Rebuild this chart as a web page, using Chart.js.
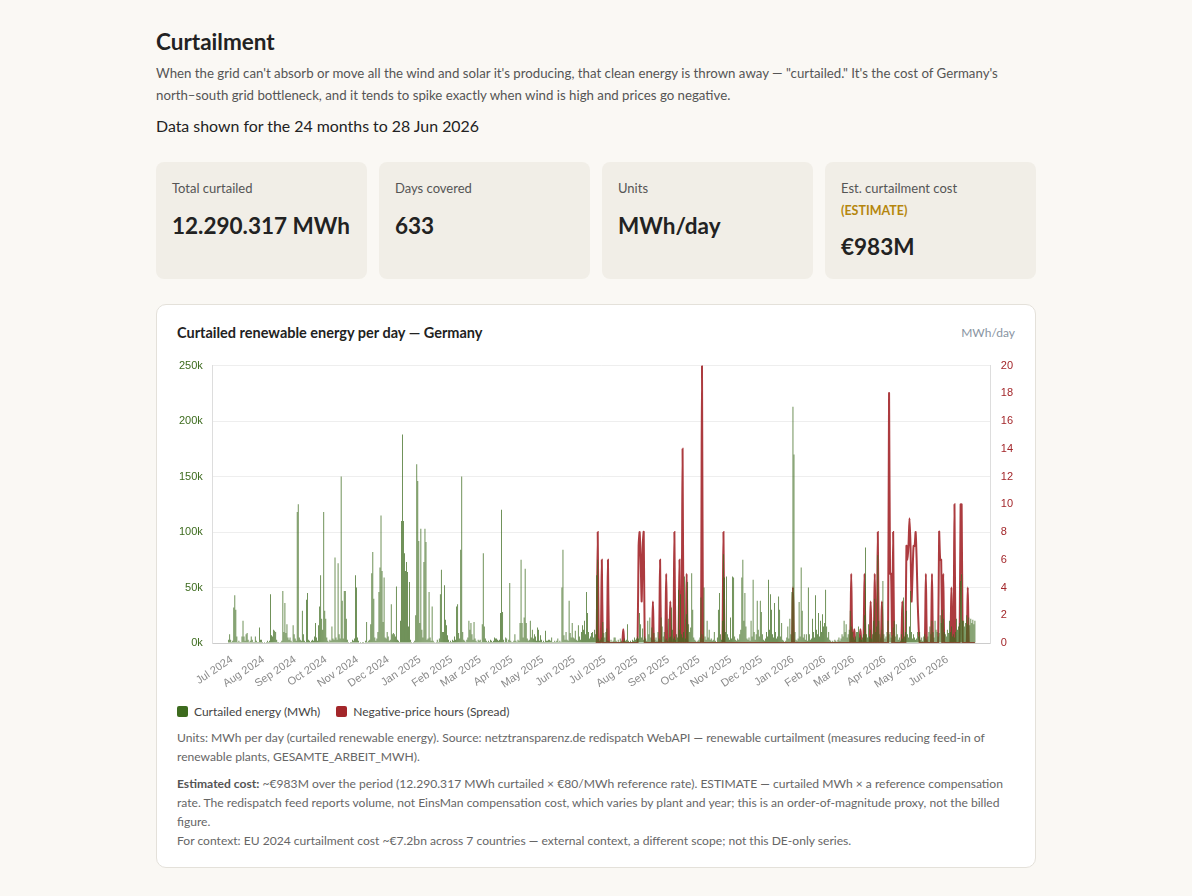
<!DOCTYPE html>
<html>
<head>
<meta charset="utf-8">
<title>Curtailment</title>
<script src="https://cdn.jsdelivr.net/npm/chart.js@4/dist/chart.umd.min.js"></script>
<style>
  body { margin: 0; background: #faf8f4; font-family: Lato, "Open Sans", sans-serif; color: #222; }
  .wrap { width: 880px; margin: 0 auto; padding-top: 29px; }
  h1 { font-size: 22.5px; font-weight: 700; margin: 0 0 7px; line-height: 26px; }
  .lead { font-size: 13.25px; line-height: 22px; color: #555; margin: 0 0 8px; }
  .sub { font-size: 15.9px; line-height: 24px; margin: 0 0 24px; }
  .cards { display: grid; grid-template-columns: repeat(4, minmax(0, 1fr)); gap: 12px; }
  .card { background: #f1eee7; border-radius: 8px; height: 117px; padding: 17px 16px; box-sizing: border-box; }
  .card .lbl { font-size: 13px; color: #555; line-height: 18px; }
  .card .est { font-size: 12.5px; color: #b5860d; font-weight: 700; line-height: 18px; margin-top: 5px; }
  .card .val { font-size: 22.5px; font-weight: 700; line-height: 30px; margin-top: 14px; white-space: nowrap; }
  .card .est + .val { margin-top: 12px; }
  .panel { margin-top: 25px; background: #fff; border: 1px solid #e4e1da; border-radius: 10px; padding: 18px 20px 16px; box-sizing: border-box; height: 564px; }
  .phead { display: flex; justify-content: space-between; align-items: center; height: 18px; }
  .ptitle { font-size: 14.5px; font-weight: 700; color: #222; }
  .punit { font-size: 12px; color: #8994a2; }
  .chartbox { position: relative; height: 352px; margin: 8px -8px 0 -8px; }
  .legend { display: flex; gap: 16px; font-size: 12px; color: #444; margin-top: 3px; }
  .legend span { display: inline-flex; align-items: center; }
  .legend i { display: inline-block; width: 11px; height: 11px; border-radius: 2px; margin-right: 6px; }
  .note { font-size: 12.1px; line-height: 19px; color: #666; margin: 9px 0 0; }
  .note b { color: #555; }
</style>
</head>
<body>
<div class="wrap">
  <h1>Curtailment</h1>
  <p class="lead">When the grid can't absorb or move all the wind and solar it's producing, that clean energy is thrown away — "curtailed." It's the cost of Germany's north–south grid bottleneck, and it tends to spike exactly when wind is high and prices go negative.</p>
  <div class="sub">Data shown for the 24 months to 28 Jun 2026</div>
  <div class="cards">
    <div class="card"><div class="lbl">Total curtailed</div><div class="val">12.290.317 MWh</div></div>
    <div class="card"><div class="lbl">Days covered</div><div class="val">633</div></div>
    <div class="card"><div class="lbl">Units</div><div class="val">MWh/day</div></div>
    <div class="card"><div class="lbl">Est. curtailment cost</div><div class="est">(ESTIMATE)</div><div class="val">€983M</div></div>
  </div>
  <div class="panel">
    <div class="phead"><div class="ptitle">Curtailed renewable energy per day — Germany</div><div class="punit">MWh/day</div></div>
    <div class="chartbox"><canvas id="curtailChart"></canvas></div>
    <div class="legend">
      <span><i style="background:#3d6b1e"></i>Curtailed energy (MWh)</span>
      <span><i style="background:#a3262a"></i>Negative-price hours (Spread)</span>
    </div>
    <p class="note">Units: MWh per day (curtailed renewable energy). Source: netztransparenz.de redispatch WebAPI — renewable curtailment (measures reducing feed-in of renewable plants, GESAMTE_ARBEIT_MWH).</p>
    <p class="note" style="margin-top:8px"><b>Estimated cost:</b> ~€983M over the period (12.290.317 MWh curtailed × €80/MWh reference rate). ESTIMATE — curtailed MWh × a reference compensation rate. The redispatch feed reports volume, not EinsMan compensation cost, which varies by plant and year; this is an order-of-magnitude proxy, not the billed figure.<br>For context: EU 2024 curtailment cost ~€7.2bn across 7 countries — external context, a different scope; not this DE-only series.</p>
  </div>
</div>

<script>
// first day of the series, one value per day after that
const startDate = '2024-06-28';

// curtailed energy per day, thousand MWh
const curtailed = [
  3, 8, 3, 1, 2, 32, 43, 30, 6, 1,
  2, 1, 1, 6, 20, 6, 2, 8, 9, 3,
  1, 2, 6, 3, 1, 1, 6, 2, 1, 1,
  14, 3, 3, 1, 0, 1, 0, 1, 2, 1,
  2, 44, 7, 6, 12, 11, 10, 3, 1, 1,
  0, 1, 2, 47, 10, 36, 9, 17, 5, 3,
  5, 2, 1, 16, 8, 4, 2, 118, 125, 5,
  3, 2, 29, 8, 2, 1, 39, 45, 3, 2,
  1, 2, 3, 2, 6, 18, 5, 2, 16, 33,
  61, 22, 12, 118, 29, 22, 5, 2, 1, 3,
  2, 15, 4, 3, 77, 5, 3, 72, 8, 4,
  150, 38, 4, 47, 47, 22, 3, 1, 0, 1,
  1, 3, 2, 4, 61, 50, 5, 2, 0, 1,
  0, 1, 1, 0, 2, 19, 1, 2, 3, 17,
  63, 82, 40, 5, 2, 4, 10, 46, 68, 115,
  65, 19, 59, 5, 4, 10, 6, 2, 3, 35,
  8, 9, 8, 6, 51, 3, 2, 1, 20, 110,
  188, 110, 81, 65, 73, 64, 15, 55, 3, 1,
  0, 1, 2, 25, 161, 146, 92, 18, 103, 12,
  5, 73, 103, 91, 3, 4, 46, 5, 2, 33,
  2, 1, 0, 1, 3, 1, 4, 44, 66, 10,
  10, 52, 21, 16, 7, 3, 1, 2, 1, 3,
  2, 6, 3, 33, 35, 9, 4, 84, 150, 10,
  3, 2, 1, 3, 5, 20, 12, 18, 8, 3,
  19, 4, 2, 1, 3, 2, 3, 1, 17, 81,
  15, 4, 2, 1, 2, 1, 3, 2, 1, 2,
  5, 4, 4, 3, 2, 3, 27, 120, 28, 3,
  1, 5, 4, 1, 3, 54, 2, 1, 1, 2,
  8, 2, 1, 3, 2, 18, 75, 18, 5, 23,
  67, 18, 4, 2, 3, 20, 5, 12, 4, 8,
  6, 2, 14, 12, 2, 7, 3, 1, 2, 1,
  11, 2, 2, 3, 3, 2, 5, 1, 1, 2,
  1, 2, 4, 1, 2, 1, 50, 84, 7, 3,
  10, 3, 2, 38, 9, 5, 18, 5, 4, 11,
  3, 2, 16, 6, 3, 10, 16, 12, 20, 8,
  46, 27, 10, 4, 6, 9, 10, 5, 12, 8,
  61, 75, 4, 2, 3, 5, 19, 9, 5, 10,
  13, 2, 2, 1, 3, 1, 2, 5, 5, 2,
  1, 3, 1, 4, 2, 1, 2, 4, 2, 3,
  17, 2, 1, 2, 1, 3, 2, 5, 3, 4,
  6, 4, 27, 17, 5, 13, 3, 6, 4, 2,
  20, 8, 23, 5, 14, 3, 9, 3, 5, 2,
  10, 4, 3, 23, 15, 6, 10, 3, 4, 2,
  22, 5, 6, 32, 12, 4, 6, 3, 8, 5,
  48, 12, 44, 8, 5, 10, 60, 4, 26, 55,
  17, 10, 14, 63, 30, 5, 3, 2, 1, 2,
  3, 5, 41, 8, 4, 50, 6, 3, 20, 5,
  12, 3, 4, 2, 3, 10, 2, 1, 5, 30,
  45, 8, 3, 20, 80, 59, 10, 60, 8, 5,
  3, 23, 4, 60, 59, 6, 3, 2, 4, 3,
  8, 12, 59, 75, 20, 45, 15, 4, 3, 5,
  2, 20, 6, 57, 10, 3, 8, 38, 12, 6,
  38, 28, 8, 3, 2, 4, 10, 6, 57, 12,
  44, 30, 8, 5, 36, 10, 4, 6, 42, 30,
  6, 18, 3, 2, 1, 2, 5, 15, 4, 22,
  8, 46, 213, 170, 10, 3, 2, 4, 37, 6,
  68, 29, 5, 8, 3, 8, 2, 50, 8, 3,
  4, 22, 10, 5, 43, 12, 8, 27, 6, 20,
  10, 26, 15, 18, 48, 15, 5, 10, 3, 2,
  1, 2, 1, 3, 2, 1, 3, 5, 2, 4,
  8, 6, 20, 10, 17, 5, 8, 12, 29, 15,
  10, 5, 3, 6, 10, 10, 15, 5, 7, 3,
  5, 8, 25, 86, 8, 5, 17, 6, 12, 4,
  8, 20, 40, 10, 15, 79, 20, 8, 5, 12,
  56, 8, 4, 6, 10, 20, 8, 10, 5, 7,
  14, 20, 6, 17, 8, 3, 5, 2, 8, 4,
  41, 6, 10, 29, 8, 5, 15, 47, 10, 4,
  8, 5, 3, 4, 10, 6, 10, 3, 5, 2,
  6, 8, 4, 3, 6, 10, 15, 8, 20, 10,
  5, 20, 12, 10, 6, 9, 25, 18, 30, 22,
  10, 8, 6, 12, 9, 20, 10, 15, 6, 8,
  5, 10, 22, 12, 15, 18, 56, 62, 20, 20,
  15, 18, 25, 17, 23, 16, 22, 18, 21, 17,
  20
];

// negative-price hours per day, series starts later
const negStart = '2025-06-23';
const negHours = [
  0, 8, 0, 0, 0, 6, 0, 0, 0, 0,
  0, 6, 0, 0, 0, 0, 0, 0, 0, 0,
  0, 0, 0, 0, 0, 0, 1, 0, 0, 0,
  0, 0, 0, 0, 0, 0, 0, 0, 0, 0,
  0, 7, 8, 6, 3, 7, 8, 0, 0, 0,
  0, 0, 0, 0, 0, 3, 0, 0, 0, 0,
  0, 0, 6, 0, 0, 0, 0, 0, 5, 0,
  0, 0, 3, 0, 0, 0, 8, 0, 0, 0,
  0, 6, 0, 0, 14, 0, 0, 0, 5, 0,
  0, 0, 0, 0, 0, 0, 0, 0, 0, 0,
  0, 0, 0, 20, 0, 0, 0, 0, 0, 0,
  0, 0, 0, 0, 0, 0, 0, 0, 0, 0,
  0, 0, 0, 0, 8, 0, 0, 0, 0, 0,
  0, 0, 0, 0, 0, 0, 0, 0, 0, 0,
  0, 0, 0, 0, 0, 0, 0, 0, 0, 0,
  0, 0, 0, 0, 0, 0, 0, 0, 0, 0,
  0, 0, 0, 0, 0, 0, 0, 0, 0, 0,
  0, 0, 0, 0, 0, 0, 0, 0, 0, 0,
  0, 0, 0, 0, 0, 0, 0, 0, 0, 0,
  0, 0, 4, 0, 0, 0, 0, 0, 0, 0,
  0, 0, 0, 0, 0, 0, 0, 0, 0, 0,
  0, 0, 0, 0, 0, 0, 0, 0, 0, 0,
  0, 0, 0, 0, 0, 0, 0, 0, 0, 0,
  0, 0, 0, 0, 0, 0, 0, 0, 0, 0,
  0, 0, 0, 0, 0, 0, 0, 0, 0, 5,
  0, 0, 1, 0, 0, 0, 0, 0, 1, 0,
  0, 0, 5, 0, 0, 0, 0, 0, 3, 0,
  0, 0, 5, 0, 0, 8, 0, 0, 0, 3,
  0, 0, 0, 0, 0, 0, 18, 5, 5, 0,
  8, 0, 0, 0, 0, 0, 0, 0, 0, 3,
  0, 0, 0, 7, 6, 7, 9, 7, 3, 5,
  7, 7, 8, 6, 3, 1, 0, 0, 0, 0,
  0, 0, 5, 0, 0, 0, 0, 0, 5, 0,
  0, 0, 0, 0, 0, 8, 6, 6, 0, 5,
  0, 0, 0, 0, 0, 0, 0, 4, 0, 0,
  10, 0, 0, 0, 0, 0, 10, 10, 0, 0,
  0, 0, 0, 4, 0, 0, 0, 0, 0, 0,
  0
];

// month ticks on the x axis
const monthStarts = ['2024-07-01', '2024-08-01', '2024-09-01', '2024-10-01', '2024-11-01', '2024-12-01',
  '2025-01-01', '2025-02-01', '2025-03-01', '2025-04-01', '2025-05-01', '2025-06-01',
  '2025-07-01', '2025-08-01', '2025-09-01', '2025-10-01', '2025-11-01', '2025-12-01',
  '2026-01-01', '2026-02-01', '2026-03-01', '2026-04-01', '2026-05-01', '2026-06-01'];
const monthLabels = ['Jul 2024', 'Aug 2024', 'Sep 2024', 'Oct 2024', 'Nov 2024', 'Dec 2024',
  'Jan 2025', 'Feb 2025', 'Mar 2025', 'Apr 2025', 'May 2025', 'Jun 2025',
  'Jul 2025', 'Aug 2025', 'Sep 2025', 'Oct 2025', 'Nov 2025', 'Dec 2025',
  'Jan 2026', 'Feb 2026', 'Mar 2026', 'Apr 2026', 'May 2026', 'Jun 2026'];

const leftTicks = [0, 50, 100, 150, 200, 250];
const rightTicks = [0, 2, 4, 6, 8, 10, 12, 14, 16, 18, 20];

const DAY = 86400000;
function dayIndex(s) {
    return Math.round((Date.parse(s) - Date.parse(startDate)) / DAY);
}

const negOffset = dayIndex(negStart);
const tickDays = monthStarts.map(dayIndex);
const lastDay = curtailed.length - 1;

const tickFont = { family: '"Liberation Sans", Arial, sans-serif', size: 11 };

new Chart(document.getElementById('curtailChart'), {
    data: {
        datasets: [{
            type: 'bar',
            label: 'Curtailed energy (MWh)',
            data: curtailed.map((v, i) => ({ x: i, y: v })),
            backgroundColor: '#3d6b1e',
            borderWidth: 0,
            yAxisID: 'y'
        }, {
            type: 'line',
            label: 'Negative-price hours (Spread)',
            data: negHours.map((v, i) => ({ x: negOffset + i, y: v })),
            borderColor: 'rgba(163, 38, 42, 0.9)',
            borderWidth: 2,
            pointRadius: 0,
            tension: 0.25,
            fill: false,
            yAxisID: 'y2'
        }]
    },
    options: {
        animation: false,
        responsive: true,
        maintainAspectRatio: false,
        plugins: { legend: { display: false }, tooltip: { enabled: false } },
        scales: {
            x: {
                type: 'linear',
                min: -15.5,
                max: lastDay + 15.5,
                offset: false,
                grid: { display: false, drawTicks: false },
                border: { display: true, color: '#cccccc' },
                afterBuildTicks: axis => { axis.ticks = tickDays.map(v => ({ value: v })); },
                ticks: {
                    autoSkip: false,
                    minRotation: 34,
                    maxRotation: 34,
                    padding: 10,
                    color: '#8a8a8a',
                    font: tickFont,
                    callback: v => monthLabels[tickDays.indexOf(v)]
                }
            },
            y: {
                position: 'left',
                min: 0,
                max: 250,
                grid: { color: '#eeeeee', drawTicks: false },
                border: { display: true, color: '#dddddd' },
                afterBuildTicks: axis => { axis.ticks = leftTicks.map(v => ({ value: v })); },
                ticks: { padding: 10, color: '#3d6b1e', font: tickFont, callback: v => v + 'k' }
            },
            y2: {
                position: 'right',
                min: 0,
                max: 20,
                grid: { display: false, drawTicks: false },
                border: { display: true, color: '#dddddd' },
                afterBuildTicks: axis => { axis.ticks = rightTicks.map(v => ({ value: v })); },
                ticks: { padding: 10, color: '#a3262a', font: tickFont }
            }
        }
    }
});
</script>
</body>
</html>
